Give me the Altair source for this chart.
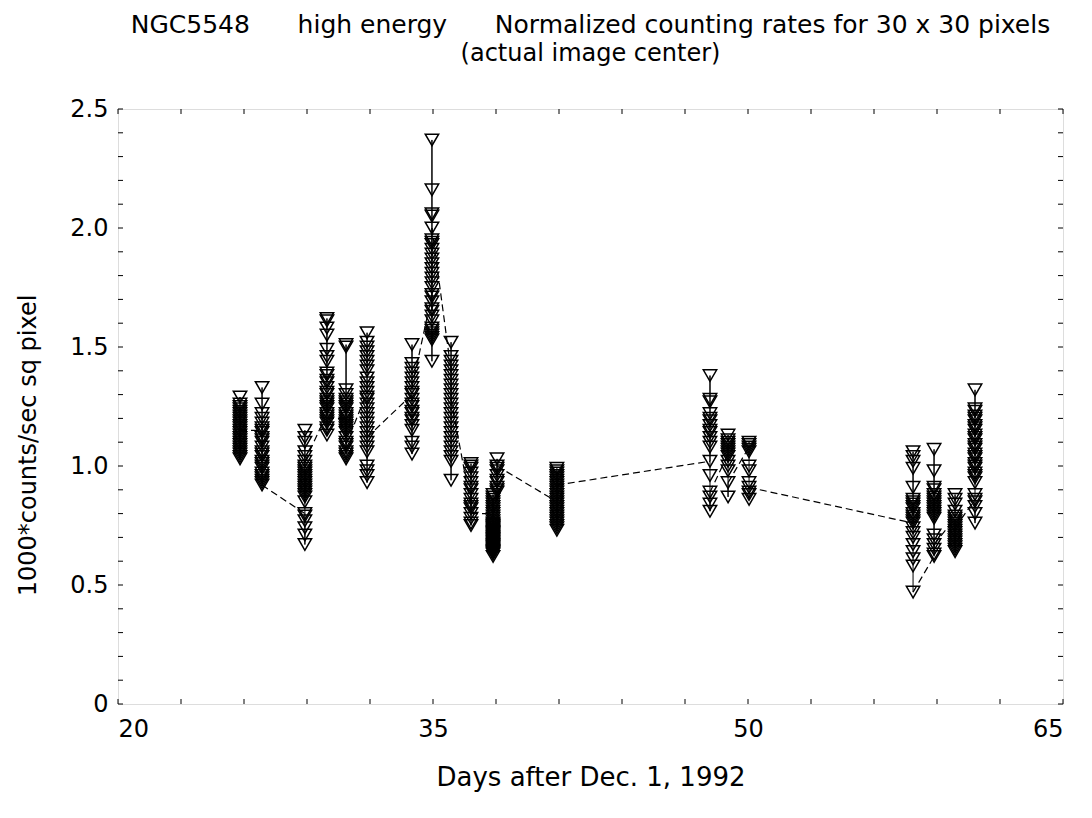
import altair as alt
import pandas as pd

# Cluster days (days after Dec. 1, 1992)
DAYS = [25.81, 26.86, 28.90, 29.95, 30.86, 31.86, 34.00, 34.95, 35.86, 36.81,
        37.86, 38.05, 40.90, 48.19, 49.05, 50.05, 57.86, 58.86, 59.86, 60.81]

# Normalized counting rates per cluster, in time order
C01 = [1.20, 1.24, 1.29, 1.26, 1.22, 1.18, 1.14, 1.10, 1.06, 1.03, 1.05, 1.08, 1.12, 1.16, 1.21, 1.25, 1.19, 1.13, 1.09, 1.04, 1.07, 1.11, 1.17, 1.23, 1.15]
C02 = [1.15, 1.20, 1.26, 1.33, 1.22, 1.18, 1.12, 1.08, 1.04, 1.00, 0.96, 0.93, 0.97, 1.02, 1.06, 1.10, 1.14, 1.16, 1.11, 1.05, 0.99, 0.95, 0.94, 1.01, 0.92]
C03 = [0.80, 0.77, 0.71, 0.67, 0.74, 0.79, 0.85, 0.89, 0.92, 0.95, 0.98, 0.93, 0.90, 0.87, 0.91, 0.96, 1.00, 1.04, 1.10, 1.15, 1.12, 1.06, 0.97, 0.94, 0.88, 0.99, 1.02]
C04 = [1.22, 1.25, 1.28, 1.33, 1.36, 1.38, 1.44, 1.49, 1.55, 1.58, 1.62, 1.61, 1.46, 1.39, 1.35, 1.31, 1.27, 1.24, 1.18, 1.15, 1.13, 1.16, 1.19, 1.21, 1.26, 1.30, 1.20]
C05 = [1.20, 1.24, 1.28, 1.32, 1.51, 1.50, 1.30, 1.26, 1.22, 1.19, 1.17, 1.15, 1.12, 1.08, 1.05, 1.03, 1.04, 1.06, 1.10, 1.14, 1.16, 1.18, 1.21, 1.25, 1.27, 1.09]
C06 = [1.31, 1.35, 1.40, 1.44, 1.48, 1.52, 1.56, 1.50, 1.46, 1.42, 1.37, 1.33, 1.29, 1.26, 1.22, 1.18, 1.14, 1.10, 1.06, 1.00, 0.96, 0.93, 0.98, 1.08, 1.16, 1.20, 1.24, 1.28, 1.12]
C07 = [1.30, 1.26, 1.22, 1.19, 1.15, 1.10, 1.05, 1.08, 1.17, 1.20, 1.23, 1.25, 1.28, 1.31, 1.35, 1.37, 1.39, 1.41, 1.43, 1.51, 1.33]
C08 = [1.72, 1.66, 1.61, 1.56, 1.54, 1.53, 1.55, 1.58, 1.44, 1.57, 1.63, 1.69, 1.75, 1.81, 1.87, 1.93, 1.95, 2.06, 2.16, 2.37, 2.05, 1.94, 1.89, 1.83, 1.77, 1.71, 1.65, 1.79, 1.85, 1.91, 2.00]
C09 = [1.40, 1.46, 1.52, 1.44, 1.38, 1.34, 1.30, 1.26, 1.22, 1.18, 1.14, 1.10, 1.06, 1.02, 0.94, 1.04, 1.08, 1.12, 1.16, 1.20, 1.24, 1.32, 1.36, 1.42, 1.28]
C10 = [0.83, 0.88, 0.93, 0.97, 1.01, 1.00, 0.99, 0.95, 0.91, 0.86, 0.82, 0.78, 0.75, 0.76, 0.84, 0.90, 0.80]
C11 = [0.80, 0.78, 0.76, 0.74, 0.72, 0.70, 0.68, 0.66, 0.64, 0.62, 0.63, 0.65, 0.67, 0.69, 0.71, 0.73, 0.75, 0.77, 0.79, 0.81,
       0.83, 0.85, 0.87, 0.88, 0.86, 0.84, 0.82, 0.745, 0.725, 0.705, 0.685, 0.665, 0.645, 0.635, 0.655, 0.675, 0.695, 0.715, 0.735, 0.755]
C12 = [0.90, 0.93, 0.96, 0.99, 1.03, 0.98, 0.94, 0.91, 0.89, 1.00]
C13 = [0.85, 0.82, 0.79, 0.76, 0.73, 0.75, 0.78, 0.81, 0.84, 0.87, 0.90, 0.93, 0.96, 0.99, 0.98, 0.97, 0.95, 0.91, 0.88, 0.86, 0.83, 0.80, 0.77, 0.74, 0.89, 0.94, 0.92]
C14 = [1.02, 1.10, 1.12, 1.15, 1.17, 1.19, 1.22, 1.27, 1.28, 1.38, 1.20, 1.14, 1.08, 0.96, 0.87, 0.84, 0.81, 0.89]
C15 = [1.05, 1.07, 1.09, 1.11, 1.13, 1.10, 1.08, 1.06, 1.04, 1.02, 1.00, 0.98, 0.87, 0.93]
C16 = [1.08, 1.10, 1.09, 1.07, 1.06, 1.00, 0.98, 0.93, 0.89, 0.86, 0.88, 0.91]
C17 = [0.76, 0.80, 0.84, 0.86, 0.91, 0.99, 1.02, 1.04, 1.06, 0.85, 0.83, 0.82, 0.79, 0.78, 0.77, 0.74, 0.72, 0.70, 0.67, 0.64, 0.61, 0.58, 0.47]
C18 = [0.62, 0.65, 0.69, 0.71, 0.78, 0.80, 0.82, 0.84, 0.86, 0.88, 0.91, 0.98, 1.07, 0.90, 0.87, 0.85, 0.83, 0.81, 0.79, 0.63, 0.67]
C19 = [0.78, 0.81, 0.84, 0.86, 0.88, 0.79, 0.77, 0.75, 0.73, 0.71, 0.69, 0.67, 0.65, 0.64, 0.66, 0.68, 0.70, 0.72, 0.76, 0.74]
C20 = [0.86, 0.83, 0.80, 0.76, 0.85, 0.88, 0.93, 0.95, 0.97, 0.99, 1.01, 1.03, 1.05, 1.07, 1.09, 1.11, 1.13, 1.15, 1.17, 1.19,
       1.21, 1.23, 1.24, 1.32, 1.20, 1.16, 1.12, 1.08, 1.04, 1.00, 0.96]

CLUSTERS = [C01, C02, C03, C04, C05, C06, C07, C08, C09, C10,
            C11, C12, C13, C14, C15, C16, C17, C18, C19, C20]

X_LABELS = [20, 35, 50, 65]
X_TICKS = [20, 23, 26, 29, 32, 35, 38, 41, 44, 47, 50, 53, 56, 59, 62, 65]
Y_LABELS = [0, 0.5, 1.0, 1.5, 2.0, 2.5]
Y_TICKS = [0, 0.1, 0.2, 0.3, 0.4, 0.5, 0.6, 0.7, 0.8, 0.9, 1.0, 1.1, 1.2, 1.3,
           1.4, 1.5, 1.6, 1.7, 1.8, 1.9, 2.0, 2.1, 2.2, 2.3, 2.4, 2.5]

rows = []
for ci, (d, vals) in enumerate(zip(DAYS, CLUSTERS)):
    for k, v in enumerate(vals):
        rows.append({"day": d, "rate": v, "cluster": ci, "k": k})
pts = pd.DataFrame(rows)

# connectors between consecutive clusters (last point -> first point of next)
seg = []
for ci in range(len(CLUSTERS) - 1):
    seg.append({"day": DAYS[ci], "rate": CLUSTERS[ci][-1], "seg": ci, "k": 0})
    seg.append({"day": DAYS[ci + 1], "rate": CLUSTERS[ci + 1][0], "seg": ci, "k": 1})
segs = pd.DataFrame(seg)

W, H = 945, 595
FONT = "DejaVu Sans"
xs = alt.Scale(domain=[20, 65], nice=False, zero=False)
ys = alt.Scale(domain=[0, 2.5], nice=False, zero=True)

XAX = alt.Axis(
    values=X_LABELS, ticks=False, domain=False, grid=False, tickSize=0,
    labelFontSize=24, labelFont=FONT, labelColor="black", labelPadding=13,
    title="Days after Dec. 1, 1992", titleFontSize=26, titleFont=FONT,
    titleFontWeight="normal", titleColor="black", titleY=73, titleBaseline="middle")
YAX = alt.Axis(
    values=Y_LABELS, ticks=False, domain=False, grid=False, tickSize=0,
    labelExpr="datum.value == 0 ? '0' : format(datum.value, '.1f')",
    labelFontSize=24, labelFont=FONT, labelColor="black", labelPadding=10,
    title="1000*counts/sec sq pixel", titleFontSize=24, titleFont=FONT,
    titleFontWeight="normal", titleColor="black", titleX=-90, titleY=336,
    titleBaseline="middle")

points = alt.Chart(pts).mark_point(
    shape="triangle-down", filled=False, size=180, color="black", strokeWidth=1.5, opacity=1
).encode(
    x=alt.X("day:Q", scale=xs, axis=XAX),
    y=alt.Y("rate:Q", scale=ys, axis=YAX),
)

inner = alt.Chart(pts).mark_line(color="black", strokeWidth=1).encode(
    x=alt.X("day:Q", scale=xs, axis=XAX),
    y=alt.Y("rate:Q", scale=ys, axis=YAX),
    detail="cluster:N",
    order="k:Q",
)

conn = alt.Chart(segs).mark_line(color="black", strokeWidth=1.2, strokeDash=[7, 4]).encode(
    x=alt.X("day:Q", scale=xs, axis=XAX),
    y=alt.Y("rate:Q", scale=ys, axis=YAX),
    detail="seg:N",
    order="k:Q",
)

xt = pd.DataFrame({"day": X_TICKS})
yt = pd.DataFrame({"rate": Y_TICKS})
xb = alt.Chart(xt).mark_rule(color="black", strokeWidth=1).encode(
    x=alt.X("day:Q", scale=xs, axis=XAX), y=alt.value(H), y2=alt.value(H - 5))
xtop = alt.Chart(xt).mark_rule(color="black", strokeWidth=1).encode(
    x=alt.X("day:Q", scale=xs, axis=XAX), y=alt.value(0), y2=alt.value(5))
yl = alt.Chart(yt).mark_rule(color="black", strokeWidth=1).encode(
    y=alt.Y("rate:Q", scale=ys, axis=YAX), x=alt.value(0), x2=alt.value(5))
yr = alt.Chart(yt).mark_rule(color="black", strokeWidth=1).encode(
    y=alt.Y("rate:Q", scale=ys, axis=YAX), x=alt.value(W), x2=alt.value(W - 5))

NB = "\u00a0"
title_line1 = f"NGC5548{NB*6}high energy{NB*6}Normalized counting rates for 30 x 30 pixels"
chart = alt.layer(points, inner, conn, xb, xtop, yl, yr).properties(
    width=W, height=H,
    autosize=alt.AutoSizeParams(type="none"),
    padding={"left": 110, "top": 101, "right": 21, "bottom": 106},
    title=alt.TitleParams(
        text=title_line1,
        subtitle="(actual image center)",
        font=FONT, fontSize=25, fontWeight="normal", color="black",
        subtitleFont=FONT, subtitleFontSize=24, subtitleColor="black",
        subtitleFontWeight="normal", subtitlePadding=4, subtitleLineHeight=26,
        anchor="middle", offset=31,
    ),
).configure_view(stroke="black", strokeWidth=1.5).configure(background="white")

chart.save("out.html", embed_options={"renderer": "svg", "actions": False})
